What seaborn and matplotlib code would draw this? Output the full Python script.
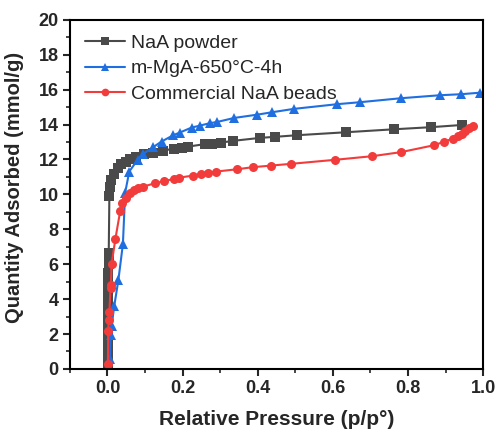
import numpy as np
import pandas as pd
import seaborn as sns
import matplotlib
matplotlib.use("Agg")
import matplotlib.pyplot as plt
from matplotlib.ticker import MultipleLocator

sns.set_theme(style="white")
plt.rcParams['font.family'] = ['Liberation Sans', 'DejaVu Sans']

# NaA powder
naa_p = [0.0001, 0.0002, 0.0003, 0.0004, 0.0005, 0.0007, 0.0009, 0.0011, 0.0013, 0.0015,
         0.0018, 0.0021, 0.0024, 0.0027, 0.003, 0.0033, 0.005, 0.005, 0.007, 0.009,
         0.016, 0.027, 0.037, 0.048, 0.061, 0.077, 0.096, 0.12, 0.147, 0.178, 0.198,
         0.215, 0.259, 0.279, 0.303, 0.335, 0.407, 0.447, 0.504, 0.634, 0.762, 0.86, 0.945]
naa_v = [0.05, 0.3, 0.6, 1.0, 1.5, 2.0, 2.5, 3.0, 3.5, 4.0,
         4.5, 5.0, 5.5, 6.0, 6.4, 6.65, 9.87, 9.97, 10.45, 10.83,
         11.19, 11.54, 11.73, 11.88, 12.05, 12.17, 12.30, 12.38, 12.51, 12.62, 12.68,
         12.74, 12.88, 12.91, 12.97, 13.07, 13.24, 13.30, 13.39, 13.56, 13.73, 13.85, 13.98]

# m-MgA-650°C-4h
mga_p = [0.007, 0.007, 0.007, 0.007, 0.008, 0.011, 0.018, 0.029, 0.041, 0.047, 0.058,
         0.08, 0.095, 0.121, 0.144, 0.175, 0.192, 0.224, 0.246, 0.272, 0.292, 0.337,
         0.399, 0.439, 0.496, 0.612, 0.671, 0.781, 0.884, 0.941, 0.993]
mga_v = [0.05, 0.13, 0.42, 1.62, 1.93, 2.46, 3.61, 5.10, 7.15, 10.10, 11.31,
         11.98, 12.32, 12.70, 13.03, 13.39, 13.54, 13.83, 13.94, 14.08, 14.15, 14.38,
         14.57, 14.71, 14.90, 15.17, 15.28, 15.51, 15.68, 15.74, 15.83]

# Commercial NaA beads
bead_p = [0.001, 0.001, 0.001, 0.002, 0.003, 0.005, 0.008, 0.009, 0.011, 0.021, 0.034,
          0.039, 0.049, 0.059, 0.071, 0.082, 0.095, 0.127, 0.15, 0.178, 0.191, 0.228,
          0.248, 0.267, 0.29, 0.345, 0.387, 0.435, 0.488, 0.605, 0.705, 0.781, 0.87,
          0.895, 0.92, 0.933, 0.943, 0.953, 0.962, 0.972]
bead_v = [0.05, 0.23, 0.61, 2.2, 2.81, 3.28, 4.64, 4.81, 6.02, 7.45, 9.07,
          9.5, 9.82, 10.07, 10.26, 10.36, 10.45, 10.64, 10.76, 10.89, 10.96, 11.08,
          11.16, 11.21, 11.31, 11.44, 11.56, 11.65, 11.75, 11.98, 12.19, 12.42, 12.82,
          13.01, 13.20, 13.34, 13.48, 13.64, 13.79, 13.94]

xticks = [0.0, 0.2, 0.4, 0.6, 0.8, 1.0]
xtick_labels = ["0.0", "0.2", "0.4", "0.6", "0.8", "1.0"]
yticks = [0, 2, 4, 6, 8, 10, 12, 14, 16, 18, 20]
ytick_labels = [str(t) for t in yticks]

fig = plt.figure(figsize=(4.96, 4.32), dpi=100)
ax = fig.add_axes([0.141, 0.146, 0.833, 0.808])

series = [
    ("NaA powder", naa_p, naa_v, "#4a4a4a", "s"),
    ("m-MgA-650°C-4h", mga_p, mga_v, "#1f6fe0", "^"),
    ("Commercial NaA beads", bead_p, bead_v, "#f23c3c", "o"),
]
for name, p, v, c, m in series:
    df = pd.DataFrame({"p": p, "v": v})
    sns.lineplot(data=df, x="p", y="v", sort=False, ax=ax, color=c, marker=m,
                 markersize=6.5, markeredgewidth=0, linewidth=1.5, label=name)

ax.set_xlim(-0.1, 1.0)
ax.set_ylim(0, 20)
ax.xaxis.set_minor_locator(MultipleLocator(0.1))
ax.yaxis.set_minor_locator(MultipleLocator(1))
ax.set_xticks(xticks)
ax.set_xticklabels(xtick_labels, fontweight='bold', fontsize=13)
ax.set_yticks(yticks)
ax.set_yticklabels(ytick_labels, fontweight='bold', fontsize=13)
ax.tick_params(axis='both', which='major', direction='out', length=5, width=1.5,
               pad=3, bottom=True, left=True, top=False, right=False)
ax.tick_params(axis='both', which='minor', direction='out', length=3, width=1.2,
               bottom=True, left=True, top=False, right=False)
for s in ax.spines.values():
    s.set_linewidth(1.5)
    s.set_color("black")
ax.set_xlabel("Relative Pressure (p/p°)", fontsize=15, fontweight='bold', labelpad=9)
ax.set_ylabel("Quantity Adsorbed (mmol/g)", fontsize=14.5, fontweight='bold')
ax.yaxis.set_label_coords(-0.112, 0.52)
leg = ax.legend(loc='upper left', frameon=False, fontsize=14, handlelength=2.1,
                bbox_to_anchor=(0.0, 1.0), borderaxespad=0.35, labelspacing=0.4,
                handletextpad=0.3, markerscale=0.85)

fig.savefig("out.png", dpi=100)
